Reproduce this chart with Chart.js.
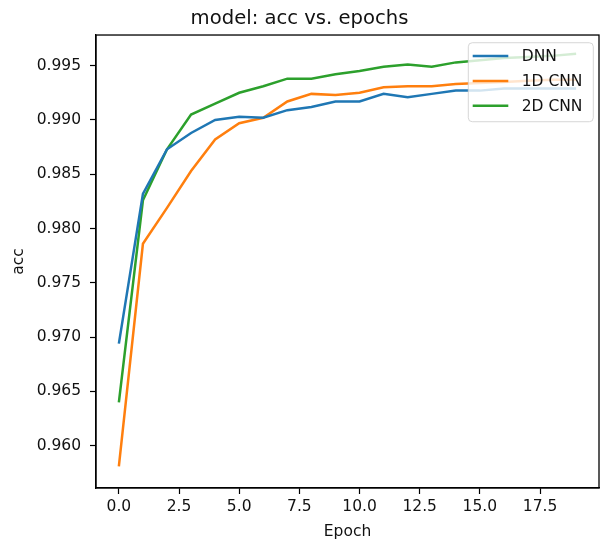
<!DOCTYPE html>
<html>
<head>
<meta charset="utf-8">
<script src="https://cdn.jsdelivr.net/npm/chart.js@4.4.1/dist/chart.umd.min.js"></script>
<style>
  html, body { margin: 0; padding: 0; background: #fff; }
  #wrap { width: 603px; height: 541px; }
</style>
</head>
<body>
<div id="wrap"><canvas id="c" width="603" height="541"></canvas></div>
<script>
const epochs = [0,1,2,3,4,5,6,7,8,9,10,11,12,13,14,15,16,17,18,19];
const dnnAcc = [0.9694,0.9832,0.9873,0.9888,0.9900,0.9903,0.9902,0.9909,0.9912,0.9917,0.9917,0.9924,0.9921,0.9924,0.9927,0.9927,0.9929,0.9929,0.9929,0.9929];
const cnn1dAcc = [0.9581,0.9786,0.9819,0.9853,0.9882,0.9897,0.9902,0.9917,0.9924,0.9923,0.9925,0.9930,0.9931,0.9931,0.9933,0.9934,0.9935,0.9936,0.9937,0.9937];
const cnn2dAcc = [0.9640,0.9826,0.9873,0.9905,0.9915,0.9925,0.9931,0.9938,0.9938,0.9942,0.9945,0.9949,0.9951,0.9949,0.9953,0.9955,0.9957,0.9958,0.9959,0.9961];
const seriesLabels = ['DNN', '1D CNN', '2D CNN'];
const titleText = 'model: acc vs. epochs';
const xTitle = 'Epoch';
const yTitle = 'acc';

const FONT = "'DejaVu Sans', sans-serif";
const TXT = '#111';
const colors = ['#1f77b4', '#ff7f0e', '#2ca02c'];
const seriesValues = [dnnAcc, cnn1dAcc, cnn2dAcc];

const datasets = seriesValues.map((vals, i) => ({
  label: seriesLabels[i],
  data: epochs.map((e, k) => ({ x: e, y: vals[k] })),
  borderColor: colors[i],
  backgroundColor: colors[i],
  borderWidth: 2.5,
  pointRadius: 0,
  tension: 0,
  fill: false
}));

const frame = {
  id: 'frame',
  afterDatasetsDraw(chart) {
    const a = chart.chartArea, ctx = chart.ctx;
    ctx.save();
    ctx.strokeStyle = '#000';
    ctx.lineWidth = 1.3;
    ctx.strokeRect(a.left, a.top, a.right - a.left, a.bottom - a.top);
    // legend (matplotlib-like, upper right, semi-transparent)
    const bw = 125, bh = 79;
    const bx = a.right - 5.7 - bw, by = a.top + 7.7;
    const r = 4;
    ctx.beginPath();
    ctx.moveTo(bx + r, by);
    ctx.lineTo(bx + bw - r, by);
    ctx.arcTo(bx + bw, by, bx + bw, by + r, r);
    ctx.lineTo(bx + bw, by + bh - r);
    ctx.arcTo(bx + bw, by + bh, bx + bw - r, by + bh, r);
    ctx.lineTo(bx + r, by + bh);
    ctx.arcTo(bx, by + bh, bx, by + bh - r, r);
    ctx.lineTo(bx, by + r);
    ctx.arcTo(bx, by, bx + r, by, r);
    ctx.closePath();
    ctx.fillStyle = 'rgba(255,255,255,0.8)';
    ctx.fill();
    ctx.strokeStyle = 'rgba(204,204,204,0.8)';
    ctx.lineWidth = 1;
    ctx.stroke();
    ctx.font = '15.5px ' + FONT;
    ctx.textBaseline = 'middle';
    ctx.textAlign = 'left';
    chart.data.datasets.forEach((ds, i) => {
      const y = by + 13.3 + i * 24.9;
      ctx.strokeStyle = ds.borderColor;
      ctx.lineWidth = 2.5;
      ctx.beginPath();
      ctx.moveTo(bx + 4.4, y);
      ctx.lineTo(bx + 40, y);
      ctx.stroke();
      ctx.fillStyle = TXT;
      ctx.fillText(ds.label, bx + 53.4, y + 1);
    });
    ctx.restore();
  }
};

new Chart(document.getElementById('c'), {
  type: 'line',
  data: { datasets },
  options: {
    responsive: false,
    animation: false,
    devicePixelRatio: 1,
    layout: { padding: { left: 0, right: 4, top: 0, bottom: 0 } },
    plugins: {
      legend: { display: false },
      tooltip: { enabled: false },
      title: {
        display: true,
        text: titleText,
        color: TXT,
        font: { family: FONT, size: 19.6, weight: 'normal', lineHeight: 1.2 },
        padding: { top: 7.5, bottom: 4 }
      }
    },
    scales: {
      x: {
        type: 'linear',
        min: -0.95,
        max: 19.95,
        afterFit(s) { s.height = 53; },
        grid: { display: true, drawOnChartArea: false, drawTicks: true, tickLength: 6, tickColor: '#000', tickWidth: 1.2 },
        border: { display: true, color: '#000', width: 1.3 },
        ticks: {
          stepSize: 2.5,
          includeBounds: false,
          autoSkip: false,
          maxRotation: 0,
          padding: 4,
          color: TXT,
          font: { family: FONT, size: 15.5 },
          callback: v => Number(v).toFixed(1)
        },
        title: {
          display: true,
          text: xTitle,
          color: TXT,
          font: { family: FONT, size: 15.5 },
          padding: { top: 4, bottom: 0 }
        }
      },
      y: {
        type: 'linear',
        min: 0.95611,
        max: 0.99782,
        afterFit(s) { s.width = 96; },
        grid: { display: true, drawOnChartArea: false, drawTicks: true, tickLength: 6, tickColor: '#000', tickWidth: 1.2 },
        border: { display: true, color: '#000', width: 1.3 },
        ticks: {
          stepSize: 0.005,
          includeBounds: false,
          autoSkip: false,
          padding: 9,
          color: TXT,
          font: { family: FONT, size: 15.5 },
          callback: v => Number(v).toFixed(3)
        },
        title: {
          display: true,
          text: yTitle,
          color: TXT,
          font: { family: FONT, size: 15.5 },
          padding: { top: 10, bottom: 2 }
        }
      }
    }
  },
  plugins: [frame]
});
</script>
</body>
</html>
